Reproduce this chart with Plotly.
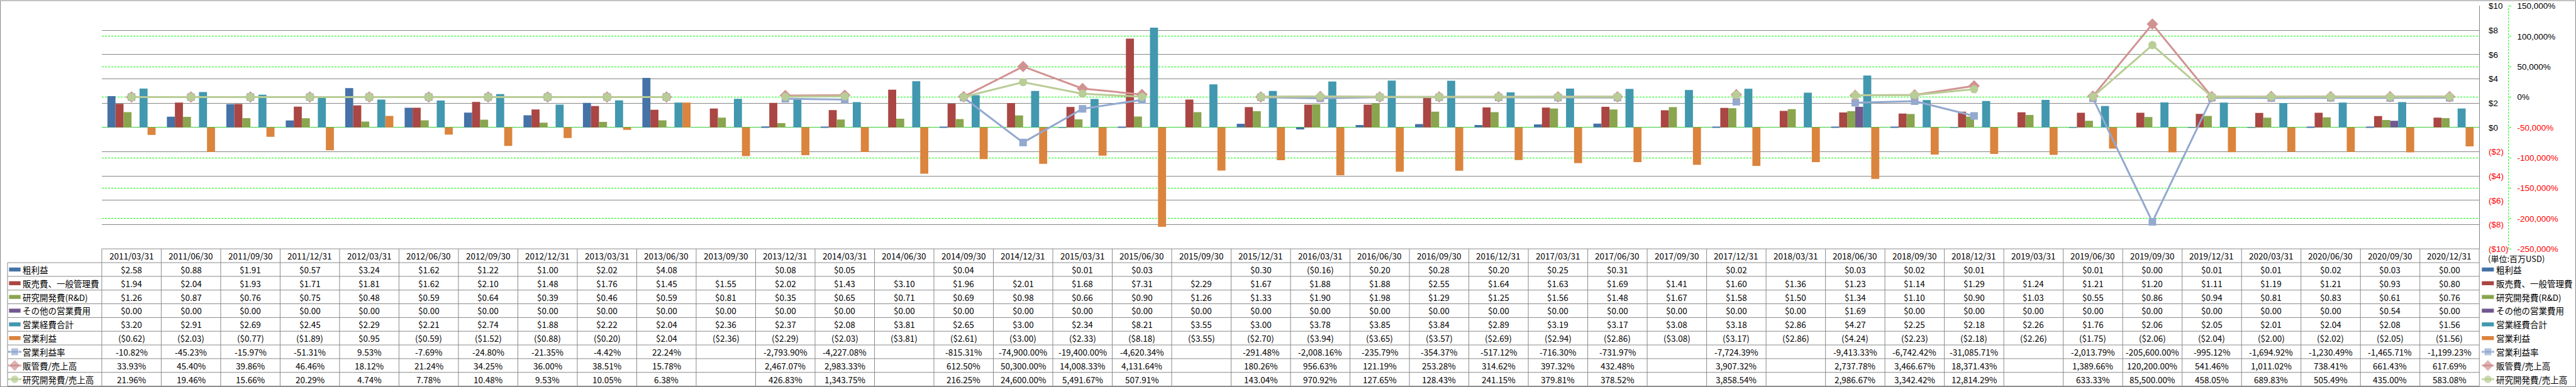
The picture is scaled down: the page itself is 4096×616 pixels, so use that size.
import plotly.graph_objects as go

# ---------------- data ----------------
dates = ["2011/03/31", "2011/06/30", "2011/09/30", "2011/12/31",
         "2012/03/31", "2012/06/30", "2012/09/30", "2012/12/31",
         "2013/03/31", "2013/06/30", "2013/09/30", "2013/12/31",
         "2014/03/31", "2014/06/30", "2014/09/30", "2014/12/31",
         "2015/03/31", "2015/06/30", "2015/09/30", "2015/12/31",
         "2016/03/31", "2016/06/30", "2016/09/30", "2016/12/31",
         "2017/03/31", "2017/06/30", "2017/09/30", "2017/12/31",
         "2018/03/31", "2018/06/30", "2018/09/30", "2018/12/31",
         "2019/03/31", "2019/06/30", "2019/09/30", "2019/12/31",
         "2020/03/31", "2020/06/30", "2020/09/30", "2020/12/31"]

gross = [2.58, 0.88, 1.91, 0.57, 3.24, 1.62, 1.22, 1.00, 2.02, 4.08, None, 0.08,
         0.05, None, 0.04, None, 0.01, 0.03, None, 0.30, -0.16, 0.20, 0.28, 0.20,
         0.25, 0.31, None, 0.02, None, 0.03, 0.02, 0.01, None, 0.01, 0.00, 0.01,
         0.01, 0.02, 0.03, 0.00]
sga = [1.94, 2.04, 1.93, 1.71, 1.81, 1.62, 2.10, 1.48, 1.76, 1.45, 1.55, 2.02,
       1.43, 3.10, 1.96, 2.01, 1.68, 7.31, 2.29, 1.67, 1.88, 1.88, 2.55, 1.64,
       1.63, 1.69, 1.41, 1.60, 1.36, 1.23, 1.14, 1.29, 1.24, 1.21, 1.20, 1.11,
       1.19, 1.21, 0.93, 0.80]
rnd = [1.26, 0.87, 0.76, 0.75, 0.48, 0.59, 0.64, 0.39, 0.46, 0.59, 0.81, 0.35,
       0.65, 0.71, 0.69, 0.98, 0.66, 0.90, 1.26, 1.33, 1.90, 1.98, 1.29, 1.25,
       1.56, 1.48, 1.67, 1.58, 1.50, 1.34, 1.10, 0.90, 1.03, 0.55, 0.86, 0.94,
       0.81, 0.83, 0.61, 0.76]
other = [0.00, 0.00, 0.00, 0.00, 0.00, 0.00, 0.00, 0.00, 0.00, 0.00, 0.00, 0.00,
         0.00, 0.00, 0.00, 0.00, 0.00, 0.00, 0.00, 0.00, 0.00, 0.00, 0.00, 0.00,
         0.00, 0.00, 0.00, 0.00, 0.00, 1.69, 0.00, 0.00, 0.00, 0.00, 0.00, 0.00,
         0.00, 0.00, 0.54, 0.00]
opex = [3.20, 2.91, 2.69, 2.45, 2.29, 2.21, 2.74, 1.88, 2.22, 2.04, 2.36, 2.37,
        2.08, 3.81, 2.65, 3.00, 2.34, 8.21, 3.55, 3.00, 3.78, 3.85, 3.84, 2.89,
        3.19, 3.17, 3.08, 3.18, 2.86, 4.27, 2.25, 2.18, 2.26, 1.76, 2.06, 2.05,
        2.01, 2.04, 2.08, 1.56]
opinc = [-0.62, -2.03, -0.77, -1.89, 0.95, -0.59, -1.52, -0.88, -0.20, 2.04, -2.36, -2.29,
         -2.03, -3.81, -2.61, -3.00, -2.33, -8.18, -3.55, -2.70, -3.94, -3.65, -3.57, -2.69,
         -2.94, -2.86, -3.08, -3.17, -2.86, -4.24, -2.23, -2.18, -2.26, -1.75, -2.06, -2.04,
         -2.00, -2.02, -2.05, -1.56]
op_margin = [-10.82, -45.23, -15.97, -51.31, 9.53, -7.69, -24.80, -21.35, -4.42, 22.24, None, -2793.90,
             -4227.08, None, -815.31, -74900.00, -19400.00, -4620.34, None, -291.48,
             -2008.16, -235.79, -354.37, -517.12, -716.30, -731.97, None, -7724.39,
             None, -9413.33, -6742.42, -31085.71, None, -2013.79, -205600.00, -995.12,
             -1694.92, -1230.49, -1465.71, -1199.23]
sga_ratio = [33.93, 45.40, 39.86, 46.46, 18.12, 21.24, 34.25, 36.00, 38.51, 15.78, None, 2467.07,
             2983.33, None, 612.50, 50300.00, 14008.33, 4131.64, None, 180.26,
             956.63, 121.19, 253.28, 314.62, 397.32, 432.48, None, 3907.32,
             None, 2737.78, 3466.67, 18371.43, None, 1389.66, 120200.00, 541.46,
             1011.02, 738.41, 661.43, 617.69]
rnd_ratio = [21.96, 19.46, 15.66, 20.29, 4.74, 7.78, 10.48, 9.53, 10.05, 6.38, None, 426.83,
             1343.75, None, 216.25, 24600.00, 5491.67, 507.91, None, 143.04,
             970.92, 127.65, 128.43, 241.15, 379.81, 378.52, None, 3858.54,
             None, 2986.67, 3342.42, 12814.29, None, 633.33, 85500.00, 458.05,
             689.83, 505.49, 435.00, 583.08]

money_ticks = [-10, -8, -6, -4, -2, 0, 2, 4, 6, 8, 10]
pct_ticks = [-250000, -200000, -150000, -100000, -50000, 0, 50000, 100000, 150000]

bar_names = ["粗利益", "販売費、一般管理費", "研究開発費(R&D)", "その他の営業費用", "営業経費合計", "営業利益"]
bar_series = [gross, sga, rnd, other, opex, opinc]
line_names = ["営業利益率", "販管費/売上高", "研究開発費/売上高"]
line_series = [op_margin, sga_ratio, rnd_ratio]
unit_label = "(単位:百万USD)"

# ---------------- styles / geometry (reference px) ----------------
bar_colors = ["#4572A7", "#AA4643", "#89A54E", "#71588F", "#4198AF", "#DB843D"]
line_colors = ["#93A9CF", "#D19392", "#B9CD96"]
line_symbols = ["square", "diamond", "circle"]
line_sizes = [12, 14, 13]

FONT = "Noto Sans CJK JP, Liberation Sans, sans-serif"
AXFONT = "Liberation Sans, Arial, sans-serif"
W, H = 5701.0, 858.0


def px(X):
    return X / W


def py(Y):
    return 1.0 - Y / H


PLOT_L, PLOT_R = 225.3, 5487.0
PLOT_T, PLOT_B = 13.2, 551.7
AX2_X = 5551.7
HDR_T, HDR_B = 551.7, 582.3
TBL_BOT = 856.0
ROW_H = (TBL_BOT - HDR_B) / 9
LEG_L = 16.7
GRID = "#868686"
TBL = "#8a8a8a"
RED = "#FF0000"
TXT = 13.5
AXF = 13.5


def money_label(v):
    return "(${})".format(abs(v)) if v < 0 else "${}".format(v)


def pct_label(v):
    return "{:,}%".format(v)


def red(t):
    return '<span style="color:%s">%s</span>' % (RED, t)


money_ticktext = [red(money_label(v)) if v < 0 else money_label(v) for v in money_ticks]
pct_ticktext = [red(pct_label(v)) if v < 0 else pct_label(v) for v in pct_ticks]


def fmt_money(v):
    if v is None:
        return ""
    if v < 0:
        return "(${:,.2f})".format(-v)
    return "${:,.2f}".format(v)


def fmt_pct(v):
    if v is None:
        return ""
    return "{:,.2f}%".format(v)


fig = go.Figure()

for n, v, c in zip(bar_names, bar_series, bar_colors):
    fig.add_trace(go.Bar(x=dates, y=v, name=n, marker=dict(color=c, line=dict(width=0)),
                         xaxis="x", yaxis="y", showlegend=False))

for n, v, c, sym, sz in zip(line_names, line_series, line_colors, line_symbols, line_sizes):
    fig.add_trace(go.Scatter(x=dates, y=v, name=n, mode="lines+markers",
                             line=dict(color=c, width=3),
                             marker=dict(symbol=sym, size=sz, color=c),
                             connectgaps=False, xaxis="x", yaxis="y2",
                             showlegend=False, cliponaxis=False))

# legend glyphs for line series (table column + right legend), overlay pixel axes
for i, (n, c, sym, sz) in enumerate(zip(line_names, line_colors, line_symbols, line_sizes)):
    yc = HDR_B + (6 + i + 0.5) * ROW_H
    for (xa, xm, xb) in [(18.0, 32.5, 47.0), (5492.6, 5506.0, 5519.5)]:
        fig.add_trace(go.Scatter(x=[xa, xm, xb], y=[yc, yc, yc], mode="lines+markers",
                                 line=dict(color=c, width=3),
                                 marker=dict(symbol=sym, size=[0, sz, 0], color=c),
                                 xaxis="x2", yaxis="y3", showlegend=False,
                                 hoverinfo="skip", cliponaxis=False))

shapes = []
annotations = []

# outer border
shapes.append(dict(type="rect", xref="paper", yref="paper", x0=px(0.7), x1=px(5700.3),
                   y0=py(857.3), y1=py(1.4), line=dict(color=GRID, width=1)))
# secondary axis dashed line
shapes.append(dict(type="line", xref="paper", yref="paper", x0=px(AX2_X), x1=px(AX2_X),
                   y0=py(PLOT_B), y1=py(PLOT_T), line=dict(color="#00FF00", width=1, dash="3px,2px")))
# table frame
shapes.append(dict(type="line", xref="paper", yref="paper", x0=px(PLOT_L), x1=px(PLOT_R),
                   y0=py(HDR_T), y1=py(HDR_T), line=dict(color=TBL, width=1)))
for i in range(10):
    yy = HDR_B + i * ROW_H
    shapes.append(dict(type="line", xref="paper", yref="paper", x0=px(LEG_L), x1=px(PLOT_R),
                       y0=py(yy), y1=py(yy), line=dict(color=TBL, width=1)))
shapes.append(dict(type="line", xref="paper", yref="paper", x0=px(LEG_L), x1=px(LEG_L),
                   y0=py(HDR_B), y1=py(TBL_BOT), line=dict(color=TBL, width=1)))
ncol = len(dates)
for k in range(ncol + 1):
    xx = PLOT_L + k * (PLOT_R - PLOT_L) / ncol
    shapes.append(dict(type="line", xref="paper", yref="paper", x0=px(xx), x1=px(xx),
                       y0=py(HDR_T), y1=py(TBL_BOT), line=dict(color=TBL, width=1)))

# bar legend swatches
for i, c in enumerate(bar_colors):
    yc = HDR_B + (i + 0.5) * ROW_H
    for (xa, xb) in [(20.0, 45.5), (5492.6, 5519.2)]:
        shapes.append(dict(type="rect", xref="paper", yref="paper", x0=px(xa), x1=px(xb),
                           y0=py(yc + 4.4), y1=py(yc - 4.4), fillcolor=c, line=dict(width=0)))

# header dates
for d in dates:
    annotations.append(dict(x=d, xref="x", y=py((HDR_T + HDR_B) / 2), yref="paper", text=d,
                            showarrow=False, xanchor="center", yanchor="middle",
                            font=dict(size=TXT, color="black", family=FONT)))

rows = [(s, fmt_money) for s in bar_series] + [(s, fmt_pct) for s in line_series]
all_names = bar_names + line_names
for i, ((series, f), name) in enumerate(zip(rows, all_names)):
    yc = py(HDR_B + (i + 0.5) * ROW_H)
    for d, v in zip(dates, series):
        t = f(v)
        if t:
            annotations.append(dict(x=d, xref="x", y=yc, yref="paper", text=t, showarrow=False,
                                    xanchor="center", yanchor="middle",
                                    font=dict(size=TXT, color="black", family=FONT)))
    annotations.append(dict(x=px(47.8), xref="paper", y=yc, yref="paper", text=name, showarrow=False,
                            xanchor="left", yanchor="middle",
                            font=dict(size=TXT, color="black", family=FONT)))
    annotations.append(dict(x=px(5522.0), xref="paper", y=yc, yref="paper", text=name, showarrow=False,
                            xanchor="left", yanchor="middle",
                            font=dict(size=TXT, color="black", family=FONT)))

annotations.append(dict(x=px(5503.0), xref="paper", y=py(573.3), yref="paper", text=unit_label,
                        showarrow=False, xanchor="left", yanchor="middle",
                        font=dict(size=13, color="black", family=FONT)))

fig.update_layout(
    width=4096, height=616,
    margin=dict(l=0, r=0, t=0, b=0, pad=0),
    template="none",
    paper_bgcolor="white", plot_bgcolor="rgba(0,0,0,0)",
    barmode="group", bargap=0.19, bargroupgap=0,
    showlegend=False,
    font=dict(family=FONT, size=TXT, color="black"),
    xaxis=dict(type="category", domain=[px(PLOT_L), px(PLOT_R)], range=[-0.5, ncol - 0.5],
               showticklabels=False, showgrid=False, zeroline=False, showline=False,
               ticks="", anchor="y", fixedrange=True),
    yaxis=dict(domain=[py(PLOT_B), py(PLOT_T)], range=[-10, 10], side="right", anchor="x",
               tickmode="array", tickvals=money_ticks, ticktext=money_ticktext,
               showgrid=True, gridcolor=GRID, gridwidth=1, zeroline=False,
               showline=True, linecolor=GRID, linewidth=1, ticks="",
               ticklabelstandoff=11, ticklabeloverflow="allow",
               tickfont=dict(size=AXF, color="black", family=AXFONT),
               fixedrange=True),
    yaxis2=dict(overlaying="y", side="right", anchor="free", position=px(AX2_X),
                range=[-250000, 150000], tickmode="array", tickvals=pct_ticks, ticktext=pct_ticktext,
                showgrid=True, gridcolor="#00FF00", griddash="3px,2px", gridwidth=1,
                zeroline=False, showline=False, ticks="outside", ticklen=3, tickcolor="#00FF00",
                ticklabelstandoff=7, ticklabeloverflow="allow",
                tickfont=dict(size=AXF, color="black", family=AXFONT),
                fixedrange=True),
    xaxis2=dict(domain=[0, 1], range=[0, W], visible=False, anchor="y3", fixedrange=True),
    yaxis3=dict(domain=[0, 1], range=[H, 0], visible=False, anchor="x2", fixedrange=True),
    shapes=shapes,
    annotations=annotations,
)

fig.write_html("out.html",
               config={"displayModeBar": False},
               post_script="document.body.style.margin='0';document.body.style.padding='0';"
                           "document.body.style.overflow='hidden';"
                           "document.documentElement.style.overflow='hidden';")
